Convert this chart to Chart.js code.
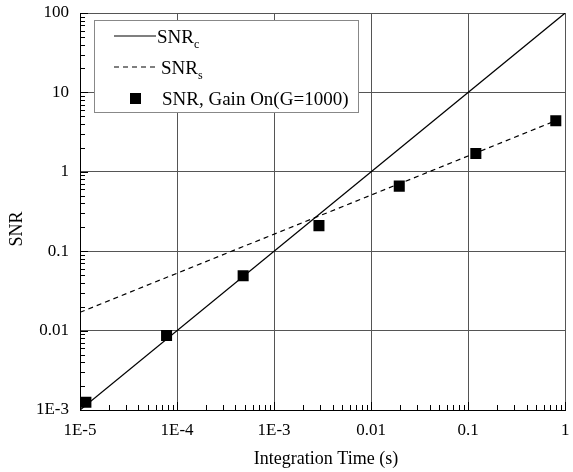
<!DOCTYPE html>
<html>
<head>
<meta charset="utf-8">
<script src="https://cdn.jsdelivr.net/npm/chart.js@4.4.1/dist/chart.umd.min.js"></script>
<style>
html, body { margin: 0; padding: 0; background: #fff; }
#wrap { width: 573px; height: 472px; position: relative; }
</style>
</head>
<body>
<div id="wrap"><canvas id="c" width="573" height="472"></canvas></div>
<script>
// tick labels
const xTickVals = [1e-5, 1e-4, 1e-3, 0.01, 0.1, 1];
const xTickLabels = ['1E-5', '1E-4', '1E-3', '0.01', '0.1', '1'];
const yTickVals = [1e-3, 0.01, 0.1, 1, 10, 100];
const yTickLabels = ['1E-3', '0.01', '0.1', '1', '10', '100'];

// SNRc (solid) and SNRs (dashed) model lines
const snrcTime = [1e-5, 1];
const snrcValue = [1e-3, 100];
const snrsTime = [1e-5, 0.8];
const snrsValue = [0.017, 4.4];

// measured SNR, gain on (G=1000)
const gainTime = [1.15e-5, 7.8e-5, 4.8e-4, 2.9e-3, 0.0195, 0.12, 0.8];
const gainValue = [1.25e-3, 0.0087, 0.049, 0.21, 0.66, 1.7, 4.4];

const FONT = 'Liberation Serif';
const pts = (xs, ys) => xs.map((x, i) => ({ x: x, y: ys[i] }));

function logTicks(min, max) {
  const out = [];
  for (let d = min; d < max * 0.999; d *= 10) {
    for (let k = 1; k < 10; k++) out.push(+(d * k).toPrecision(3));
  }
  out.push(max);
  return out;
}
const isMajor = (v, majors) => majors.some(m => Math.abs(v / m - 1) < 1e-6);

const inwardTicks = {
  id: 'inwardTicks',
  beforeDatasetsDraw(chart) {
    const ctx = chart.ctx, a = chart.chartArea;
    const sx = chart.scales.x, sy = chart.scales.y;
    ctx.save();
    ctx.strokeStyle = '#000';
    ctx.lineWidth = 1;
    ctx.beginPath();
    sx.ticks.forEach(t => {
      const px = Math.round(sx.getPixelForValue(t.value)) + 0.5;
      const len = isMajor(t.value, xTickVals) ? 8 : 5;
      ctx.moveTo(px, a.bottom); ctx.lineTo(px, a.bottom - len);
    });
    sy.ticks.forEach(t => {
      const py = Math.round(sy.getPixelForValue(t.value)) + 0.5;
      const len = isMajor(t.value, yTickVals) ? 8 : 5;
      ctx.moveTo(a.left, py); ctx.lineTo(a.left + len, py);
    });
    ctx.stroke();
    ctx.restore();
  }
};

const legendBox = {
  id: 'legendBox',
  afterDatasetsDraw(chart) {
    const ctx = chart.ctx;
    ctx.save();
    ctx.fillStyle = '#fff';
    ctx.fillRect(94, 20, 264, 92);
    ctx.strokeStyle = '#888';
    ctx.lineWidth = 1;
    ctx.strokeRect(94.5, 20.5, 264, 92);

    ctx.strokeStyle = '#000';
    ctx.lineWidth = 1.2;
    ctx.beginPath(); ctx.moveTo(114, 36); ctx.lineTo(156, 36); ctx.stroke();
    ctx.setLineDash([5, 4]);
    ctx.beginPath(); ctx.moveTo(114, 67); ctx.lineTo(159, 67); ctx.stroke();
    ctx.setLineDash([]);
    ctx.fillStyle = '#000';
    ctx.fillRect(130, 93, 11, 11);

    ctx.textBaseline = 'alphabetic';
    ctx.textAlign = 'left';
    ctx.font = '19px "' + FONT + '"';
    ctx.fillText('SNR', 157, 43);
    let w = ctx.measureText('SNR').width;
    ctx.fillText('SNR', 161, 74);
    ctx.fillText('SNR, Gain On(G=1000)', 162, 105);
    ctx.font = '12px "' + FONT + '"';
    ctx.fillText('c', 157 + w, 48);
    ctx.fillText('s', 161 + w, 79);
    ctx.restore();
  }
};

const axisTitles = {
  id: 'axisTitles',
  afterDraw(chart) {
    const ctx = chart.ctx;
    ctx.save();
    ctx.fillStyle = '#000';
    ctx.font = '18px "' + FONT + '"';
    ctx.textAlign = 'center';
    ctx.textBaseline = 'middle';
    ctx.fillText('Integration Time (s)', 326, 459);
    ctx.translate(17, 229);
    ctx.rotate(-Math.PI / 2);
    ctx.fillText('SNR', 0, 0);
    ctx.restore();
  }
};

new Chart(document.getElementById('c'), {
  type: 'scatter',
  data: {
    datasets: [
      { label: 'SNRc', data: pts(snrcTime, snrcValue), showLine: true, borderColor: '#000', borderWidth: 1.3, pointRadius: 0, fill: false },
      { label: 'SNRs', data: pts(snrsTime, snrsValue), showLine: true, borderColor: '#000', borderWidth: 1.2, borderDash: [5, 4], pointRadius: 0, fill: false },
      { label: 'SNR, Gain On(G=1000)', data: pts(gainTime, gainValue), showLine: false, pointStyle: 'rect', pointRadius: 7.8, backgroundColor: '#000', borderColor: '#000', borderWidth: 0 }
    ]
  },
  options: {
    responsive: false,
    animation: false,
    devicePixelRatio: 1,
    layout: { padding: { top: 13, right: -3, left: 0, bottom: 0 } },
    plugins: { legend: { display: false }, tooltip: { enabled: false } },
    scales: {
      x: {
        type: 'logarithmic', min: 1e-5, max: 1,
        afterBuildTicks: s => { s.ticks = logTicks(1e-5, 1).map(v => ({ value: v })); },
        afterFit: s => { s.height = 62; s.paddingLeft = 0; s.paddingRight = 0; },
        ticks: {
          autoSkip: false, maxRotation: 0, padding: 10, color: '#000',
          font: { family: FONT, size: 17 },
          callback: v => { const i = xTickVals.findIndex(m => Math.abs(v / m - 1) < 1e-6); return i >= 0 ? xTickLabels[i] : ''; }
        },
        grid: {
          drawTicks: false,
          color: c => (c.tick && isMajor(c.tick.value, xTickVals)) ? '#555' : 'rgba(0,0,0,0)',
          lineWidth: 1
        },
        border: { display: true, color: '#000', width: 1 }
      },
      y: {
        type: 'logarithmic', min: 1e-3, max: 100,
        afterBuildTicks: s => { s.ticks = logTicks(1e-3, 100).map(v => ({ value: v })); },
        afterFit: s => { s.width = 80; s.paddingTop = 0; s.paddingBottom = 0; },
        ticks: {
          autoSkip: false, padding: 11, color: '#000',
          font: { family: FONT, size: 17 },
          callback: v => { const i = yTickVals.findIndex(m => Math.abs(v / m - 1) < 1e-6); return i >= 0 ? yTickLabels[i] : ''; }
        },
        grid: {
          drawTicks: false,
          color: c => (c.tick && isMajor(c.tick.value, yTickVals)) ? '#555' : 'rgba(0,0,0,0)',
          lineWidth: 1
        },
        border: { display: true, color: '#000', width: 1 }
      }
    }
  },
  plugins: [inwardTicks, legendBox, axisTitles]
});
</script>
</body>
</html>
